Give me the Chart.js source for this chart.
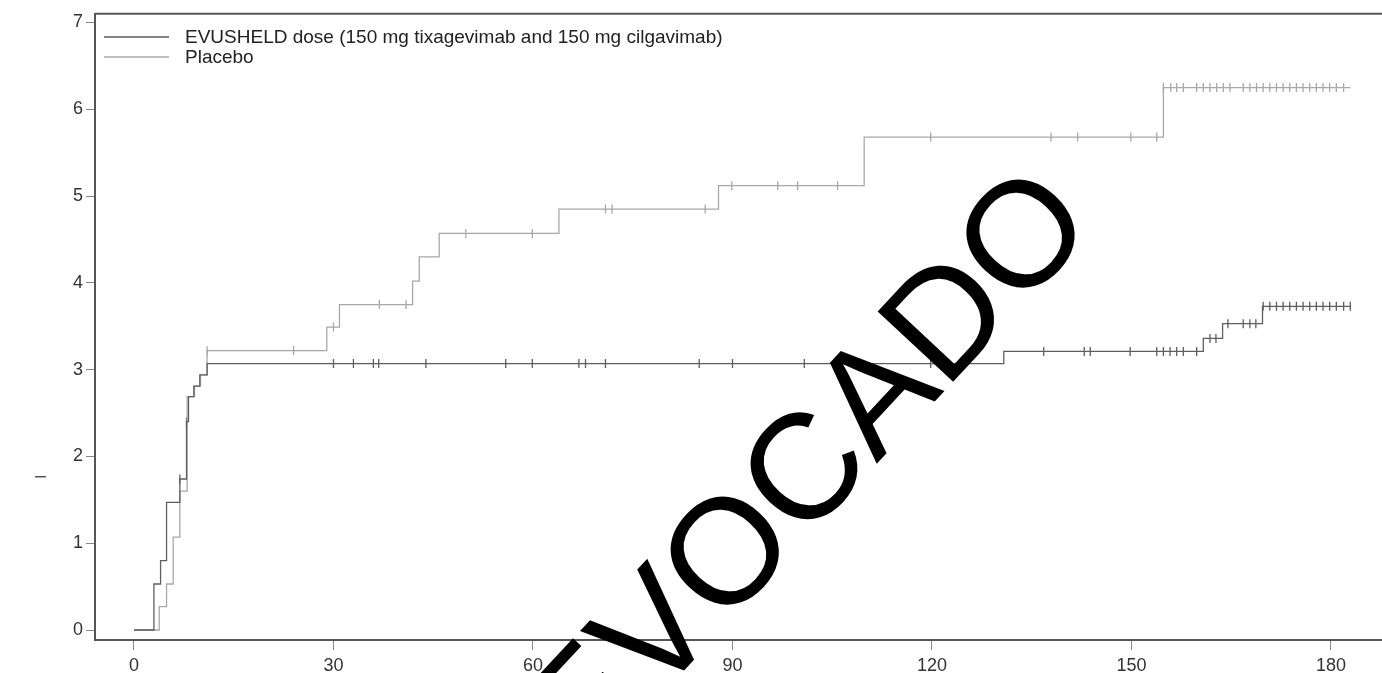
<!DOCTYPE html>
<html>
<head>
<meta charset="utf-8">
<script src="https://cdn.jsdelivr.net/npm/chart.js@4.4.0/dist/chart.umd.min.js"></script>
<style>
html,body{margin:0;padding:0;background:#fff;overflow:hidden}
#wrap{width:1388px;height:673px;position:relative}
</style>
</head>
<body>
<div id="wrap"><canvas id="km"></canvas></div>
<script>
// step curves (days, cumulative %)
const evuTimes  = [0, 3.0, 4.0, 4.9, 6.9, 7.9, 8.2, 9.0, 9.9, 11.0, 130.8, 160.8, 163.7, 169.7, 183.0];
const evuValues = [0, 0.53, 0.80, 1.47, 1.74, 2.40, 2.69, 2.81, 2.94, 3.07, 3.21, 3.36, 3.53, 3.73, 3.73];
const plaTimes  = [0, 3.8, 4.9, 5.9, 6.9, 8.0, 9.1, 10.0, 11.0, 29.0, 30.9, 41.9, 42.9, 45.9, 63.9, 87.9, 109.8, 154.8, 182.9];
const plaValues = [0, 0.27, 0.53, 1.07, 1.60, 2.69, 2.81, 2.94, 3.22, 3.49, 3.75, 4.02, 4.30, 4.57, 4.85, 5.12, 5.68, 6.25, 6.25];

// censored observations (days)
const evuCensor = [6.9, 7.9, 30.0, 33.0, 36.0, 36.8, 43.9, 55.9, 59.9, 66.9, 67.9, 70.9, 85.0, 90.0, 100.8, 119.8,
  136.8, 142.9, 143.8, 149.8, 153.8, 154.8, 155.8, 156.8, 157.8, 159.8, 161.8, 162.7, 164.5, 166.8, 167.8, 168.7,
  169.8, 170.8, 171.8, 172.8, 173.8, 174.8, 175.8, 176.8, 177.8, 178.8, 179.8, 180.8, 181.9, 182.9];
const plaCensor = [11.0, 24.0, 30.0, 36.9, 40.9, 49.9, 59.9, 70.9, 71.9, 85.9, 89.9, 96.8, 99.8, 105.8,
  119.8, 137.9, 141.9, 149.9, 153.8, 154.8, 155.9, 156.8, 157.8, 159.8, 160.8, 161.8, 162.8, 163.8, 164.8,
  166.8, 167.8, 168.8, 169.8, 170.8, 171.8, 172.8, 173.8, 174.8, 175.8, 176.8, 177.8, 178.8, 179.8, 180.8, 181.9];

const xTicks = [0, 30, 60, 90, 120, 150, 180];
const yTicks = [0, 1, 2, 3, 4, 5, 6, 7];
const labels = ['EVUSHELD dose (150 mg tixagevimab and 150 mg cilgavimab)', 'Placebo'];
const colors = ['#5e5e5e', '#a8a8a8'];

const pts = (ts, vs) => ts.map((t, i) => ({x: t, y: vs[i]}));
// y of a step curve at time t
function stepAt(ts, vs, t){
  let v = vs[0];
  for(let i=0;i<ts.length;i++){ if(ts[i] <= t + 1e-9) v = vs[i]; }
  return v;
}
const marks = (c, ts, vs) => c.map(t => ({x: t, y: stepAt(ts, vs, t)}));

const font = {family: '"Liberation Sans", Arial, sans-serif', size: 18};

const extras = {
  id: 'extras',
  afterDatasetsDraw(chart){
    const {ctx, chartArea: a} = chart;
    ctx.save();
    // top frame line
    ctx.strokeStyle = '#555'; ctx.lineWidth = 2;
    ctx.beginPath(); ctx.moveTo(a.left, a.top); ctx.lineTo(chart.width, a.top); ctx.stroke();
    // legend
    ctx.font = '19px "Liberation Sans", Arial, sans-serif';
    ctx.textBaseline = 'middle';
    labels.forEach((l, i) => {
      const y = 37 + i * 20;
      ctx.strokeStyle = colors[i]; ctx.lineWidth = 1.3;
      ctx.beginPath(); ctx.moveTo(104, y); ctx.lineTo(169, y); ctx.stroke();
      ctx.fillStyle = '#222';
      ctx.fillText(l, 185, y + 1);
    });
    // remnant of y title
    ctx.fillStyle = '#555';
    ctx.fillRect(35, 476, 11, 1.5);
    ctx.restore();
  },
  afterDraw(chart){
    const ctx = chart.ctx;
    ctx.save();
    ctx.translate(1068, 198);
    ctx.rotate(-47 * Math.PI / 180);
    ctx.font = '150px "Liberation Sans", Arial, sans-serif';
    ctx.fillStyle = '#000';
    ctx.textAlign = 'right';
    ctx.textBaseline = 'middle';
    ctx.fillText('REVOCADO', 0, 0);
    ctx.restore();
  }
};

new Chart(document.getElementById('km'), {
  type: 'line',
  data: {
    datasets: [
      {label: labels[0], data: pts(evuTimes, evuValues), stepped: 'before', borderColor: colors[0], borderWidth: 1.3, pointRadius: 0},
      {label: labels[1], data: pts(plaTimes, plaValues), stepped: 'before', borderColor: colors[1], borderWidth: 1.3, pointRadius: 0},
      {label: 'c1', data: marks(evuCensor, evuTimes, evuValues), showLine: false, pointStyle: 'line', rotation: 90,
       pointRadius: 4.5, borderColor: colors[0], borderWidth: 1.3},
      {label: 'c2', data: marks(plaCensor, plaTimes, plaValues), showLine: false, pointStyle: 'line', rotation: 90,
       pointRadius: 4.5, borderColor: colors[1], borderWidth: 1.3}
    ]
  },
  options: {
    responsive: true,
    maintainAspectRatio: false,
    animation: false,
    layout: {padding: {top: 11, right: 0, left: 0, bottom: 0}},
    plugins: {legend: {display: false}, tooltip: {enabled: false}},
    scales: {
      x: {
        type: 'linear', min: -5.86, max: 187.7,
        afterBuildTicks: s => { s.ticks = xTicks.map(v => ({value: v})); },
        afterFit: s => { s.height = 33; },
        grid: {drawOnChartArea: false, drawTicks: true, tickLength: 10, color: '#888'},
        border: {display: true, color: '#555', width: 2},
        ticks: {font, color: '#333', padding: 5, maxRotation: 0, autoSkip: false}
      },
      y: {
        min: -0.115, max: 7.1,
        afterBuildTicks: s => { s.ticks = yTicks.map(v => ({value: v})); },
        afterFit: s => { s.width = 95; },
        grid: {drawOnChartArea: false, drawTicks: true, tickLength: 9, color: '#888'},
        border: {display: true, color: '#555', width: 2},
        ticks: {font, color: '#333', padding: 3}
      }
    }
  },
  plugins: [extras]
});
</script>
</body>
</html>
